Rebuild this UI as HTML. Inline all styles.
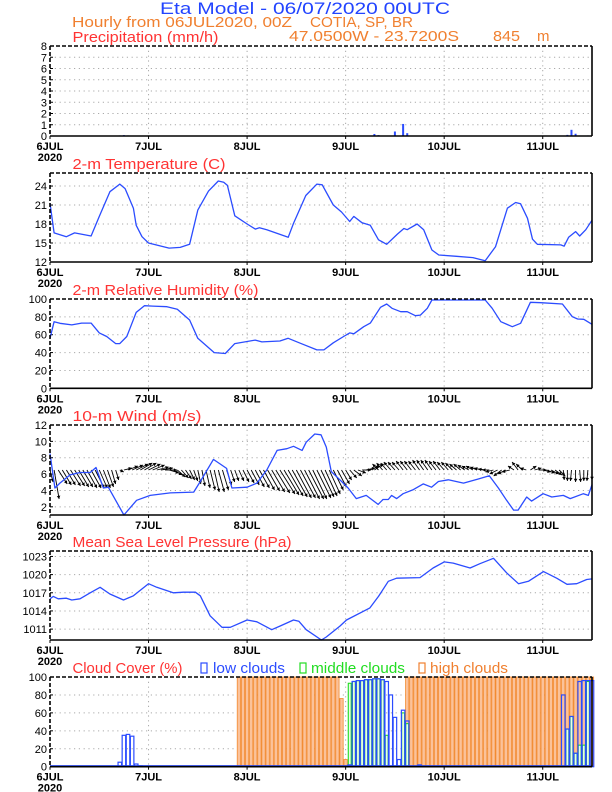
<!DOCTYPE html>
<html><head><meta charset="utf-8"><title>Eta Model Meteogram</title>
<style>
html,body{margin:0;padding:0;background:#fff;}
svg{display:block;font-family:"Liberation Sans",sans-serif;}
</style></head>
<body>
<svg id="chart" width="612" height="792" viewBox="0 0 612 792" xmlns="http://www.w3.org/2000/svg">
<rect width="612" height="792" fill="#fff"/>
<text x="160" y="14" font-size="17" fill="#2244ff" textLength="290" lengthAdjust="spacingAndGlyphs">Eta Model - 06/07/2020 00UTC</text>
<text x="72" y="27" font-size="15" fill="#f08030" textLength="220" lengthAdjust="spacingAndGlyphs">Hourly from 06JUL2020, 00Z</text>
<text x="310" y="27" font-size="15" fill="#f08030" textLength="103" lengthAdjust="spacingAndGlyphs">COTIA, SP, BR</text>
<text x="289" y="41" font-size="15" fill="#f08030" textLength="170" lengthAdjust="spacingAndGlyphs">47.0500W - 23.7200S</text>
<text x="493" y="41" font-size="15" fill="#f08030" textLength="27" lengthAdjust="spacingAndGlyphs">845</text>
<text x="537" y="41" font-size="15" fill="#f08030">m</text>
</svg>
<script>
// ---------- data ----------
const dayLabels = ["6JUL","7JUL","8JUL","9JUL","10JUL","11JUL"];
const yearLabel = "2020";

const precipHours = [17,18,19,79,80,84,86,87,97,99,101,103,105,107,126,127,128,131];
const precipValues = [0.05,0.08,0.05,0.18,0.08,0.4,1.07,0.25,0.03,0.03,0.03,0.03,0.03,0.03,0.1,0.55,0.2,0.05];
const precipTicks = [0,1,2,3,4,5,6,7,8];

const tempHours = [0,1,4,6,10,12,14.6,17,18.3,20.3,21,22.4,24,29,31.7,34,36,38.6,41,42.3,43.2,45,48,50,51,52.8,58,59.3,62.3,65,66.3,69,71,73,74,76,78,80,82,84.6,86.2,87,89.4,91,93,94.7,99,103,106,108.5,111.4,113.4,114.6,116.3,117.5,118.7,124.4,125.2,126.3,128,129,130.5,132];
const tempValues = [21.3,16.6,16.0,16.6,16.1,19.2,23.1,24.3,23.6,20.5,17.8,16.0,15.0,14.2,14.3,14.8,20.2,23.2,24.8,24.6,24.1,19.3,18.0,17.2,17.4,17.1,15.9,18.1,22.5,24.3,24.2,21.0,19.9,18.4,19.2,18.2,17.8,15.5,14.8,16.4,17.3,17.1,18.0,17.1,13.9,13.1,12.9,12.7,12.2,14.4,20.5,21.4,21.2,18.9,15.6,14.8,14.7,14.5,15.9,16.8,16.1,17.1,18.6];
const tempTicks = [12,15,18,21,24];

const rhHours = [0,1,2.4,5.3,7.7,10,12,13.8,16,17,18.7,21,23,25,28.5,31,34,36,40,42.7,45,50,51.6,56,58,61,65,66.7,69,71.5,73,74,76.4,78,80.5,82,83.3,85.4,87,89,90.2,91.9,93,106,107.7,109.8,112.6,114.6,117,119.5,124.8,127.2,128.5,130,132];
const rhValues = [56,74.6,72.8,71,73,73,62,58,50,50,58,85,92.5,92,91.4,88.5,76.5,56,40,39,50,54,52,53,56,50.4,43,43,51,58,62,61,69,73,90.7,94.4,89.6,85.8,85.8,81.3,82,89.6,98.9,98.9,89.6,74.6,69,72.8,96.3,95.9,94.4,80.2,77.6,77.3,71.7];
const rhTicks = [0,20,40,60,80,100];

const windHours = [0,1.2,2.4,4.9,7.3,9.8,11.2,13,14.2,18,21.1,24.4,29.3,35,36.6,39.8,43,44.3,48,50.4,52.8,55.3,57.7,59.3,61.4,62.4,64.5,66,67.3,68.5,70.6,72.6,74.6,77,79.9,81.1,82.4,83.2,84.4,86,88.5,90.9,92.9,94.6,97,100.7,104.3,107,109.2,111.2,112.9,114,116.1,117.3,120.1,122.2,125,126.7,129.9,131.1,132];
const windSpeed = [8.5,4.3,4.9,5.9,6.2,6.2,6.8,4.3,4.4,1.0,2.8,3.4,3.7,3.8,5.1,7.8,6.7,4.3,4.4,4.9,6.5,8.9,9.1,9.4,8.9,9.9,10.9,10.8,9.3,6.3,5.3,4.3,3.0,3.4,2.3,2.9,2.9,3.4,3.0,3.6,4.1,4.8,4.4,5.1,5.3,4.9,5.4,5.8,4.3,2.8,1.6,1.6,3.2,2.7,3.6,3.2,3.4,3.0,3.6,3.4,4.7];
const windTicks = [2,4,6,8,10,12];
// hourly wind vector components (m/s), hours 0..132
const windU = [1.5,2.5,
 4.5,4.5,4.5,5,5,5,5,5,5,4.5,
 4,3.5,3,2,1.5,
 2,4,5,5.5,6,6,6,6,6,6,6,6,
 5,4.5,4,3.5,3,2.5,2,
 1.5,1.5,2,2.5,2.5,3,3,
 2.5,2,2,2.5,3,3.5,
 4,4.5,5,5.5,6,6.5,7,7.5,7.5,7.5,7.5,7.5,7.5,
 7.5,7.5,7,7,6.5,6,5.5,5,4.5,4,
 3,3.5,4,4,4.5,4.5,4.5,4.5,
 -3,-3,-3,-3.5,-3.5,-3.5,-3.5,-3.5,-3.5,-3.5,
 -3.5,-3.5,-3.5,-3.5,-3.5,-3.5,-3.5,-3.5,-3.5,-3.5,
 -3.5,-3.5,-3.5,-3.5,-3.5,-3.5,-3.5,-3.5,
 -4,-4,-4,-4,-4,
 -3,-3,-3,-3,
 3,3.5,4,4,4,4,3.5,3,
 0.5,0,-0.5,0,0.5,0,-0.5,0];
const windV = [-6,-14.5,
 -7,-7.5,-7.5,-8,-8,-8.5,-8.5,-9,-9,-9,
 -9,-9,-8.5,-7,-5,
 -1,1,2,2.5,3,3.5,3.5,3,2.5,1.5,1,0,
 -1.5,-2.5,-3.5,-4,-4.5,-5,-5.5,
 -7,-8,-9,-10,-11,-11,-10,
 -7.5,-6,-5.5,-5.5,-6,-6.5,
 -7.5,-8.5,-9,-10,-10.5,-11,-11.5,-12,-12.5,-13,-13.5,-14,-14,
 -14.5,-14.5,-14.5,-14,-13.5,-13,-12,-10,-8.5,-7,
 -5,-4,-3,-1.5,0,1,2,3,
 3,3.5,3.5,4,4,4,4.5,4.5,4.5,4.5,
 5,5,5,5,4.5,4.5,4,4,3.5,3,
 3,2.5,2,2,1.5,1,0.5,0,
 -1,-2,-3,-2,-1,
 2,4,3,1,
 2,1,0,-1,-1.5,-2,-2.5,-3,
 -5,-5.5,-5.5,-6,-6,-5.5,-5.5,-5];

const mslpHours = [0,0.8,2,4,5.3,7.3,9.8,12.2,14.6,17.9,20.3,24,26,30,32.5,35.4,36.6,39,41.9,43.9,48,50.4,54,56,59.3,60.6,62.4,66.1,67.3,70.6,72.2,77.9,80,82.4,84.4,90.1,93.3,96,98.2,102.3,104.7,108,111.2,114.1,116.5,120.2,123.4,125.9,128.3,130.7,132];
const mslpValues = [1016.0,1016.4,1016.0,1016.1,1015.8,1016.0,1017.0,1017.9,1016.8,1015.8,1016.5,1018.5,1017.9,1017.0,1017.1,1017.1,1016.5,1013.2,1011.3,1011.3,1012.5,1012.2,1010.9,1011.5,1012.5,1012.3,1010.9,1009.2,1009.7,1011.5,1012.5,1014.5,1016.4,1018.9,1019.4,1019.5,1021.1,1022.1,1021.9,1021.1,1021.8,1022.7,1020.3,1018.5,1018.9,1020.5,1019.4,1018.4,1018.5,1019.2,1019.3];
const mslpTicks = [1011,1014,1017,1020,1023];

const lowHours = [17,18,19,20,21,22,73,74,75,76,77,78,79,80,81,82,83,84,85,86,87,90,125,126,127,128,129,130,131,132];
const lowValues = [5,35,36,34,3,1,2,95,96,96,97,97,98,98,97,95,80,55,8,63,51,2,80,42,56,15,95,96,96,96];
const midHours = [73,74,75,76,77,78,79,80,81,82,86,87,126,127,128,129,130,131];
const midValues = [93,95,96,96,97,97,98,98,97,35,60,48,42,56,15,24,24,95];
const highHours = [46,47,48,49,50,51,52,53,54,55,56,57,58,59,60,61,62,63,64,65,66,67,68,69,70,71,72,
 87,88,89,90,91,92,93,94,95,96,97,98,99,100,101,102,103,104,105,106,107,108,109,110,111,112,113,114,115,116,117,118,119,120,121,122,123,124,125,126,127,128,129,130,131,132];
const highValues = [100,100,100,100,100,100,100,100,100,100,100,100,100,100,100,100,100,100,100,100,100,100,100,100,100,76,8,
 100,100,100,100,100,100,100,100,100,100,100,100,100,100,100,100,100,100,100,100,100,100,100,100,100,100,100,100,100,100,100,100,100,100,100,100,100,100,100,100,100,100,100,100,100,100,100,100,100,100];
const cloudTicks = [0,20,40,60,80,100];

// ---------- drawing ----------
const NS = "http://www.w3.org/2000/svg";
const svg = document.getElementById("chart");
const X0 = 50, X1 = 592, HMAX = 132;
const BLUE = "#2b4cff", RED = "#ff3333", ORANGE = "#f08030", GREEN = "#22dd22";
function xs(h){ return X0 + (X1 - X0) * h / HMAX; }
function mk(tag, attrs, parent){
  const e = document.createElementNS(NS, tag);
  for (const k in attrs) e.setAttribute(k, attrs[k]);
  (parent || svg).appendChild(e);
  return e;
}
function yScale(p){ return v => p.bottom - (v - p.min) / (p.max - p.min) * (p.bottom - p.top); }

function drawPanel(p, name, ticks, title, titleLen){
  const g = mk("g", {});
  
  
  const y = yScale(p);
  ticks.forEach(t => {
    const yy = y(t);
    if (yy > p.top + 1 && yy < p.bottom - 1) {
      const gl = mk("line", {x1:X0, x2:X1, y1:yy, y2:yy, stroke:"#aaa", "stroke-width":1, "stroke-dasharray":"1.2,3.6"}, g);
      
      
    }
    const tl = mk("text", {x:47, y:yy + 4, "font-size":11, "text-anchor":"end", fill:"#000"}, g);
    
    
    tl.textContent = t;
    mk("line", {x1:X0, x2:X0 + 3, y1:yy, y2:yy, stroke:"#000", "stroke-width":1}, g);
  });
  dayLabels.forEach((d, i) => {
    const xx = xs(i * 24);
    if (i > 0) {
      const vl = mk("line", {x1:xx, x2:xx, y1:p.top, y2:p.bottom, stroke:"#aaa", "stroke-width":1, "stroke-dasharray":"1.2,3.6"}, g);
      
      
    }
    const dl = mk("text", {x:xx, y:p.bottom + 14, "font-size":11, "font-weight":"bold", "text-anchor":"middle", fill:"#000"}, g);
    
    
    dl.textContent = d;
    mk("line", {x1:xx, x2:xx, y1:p.bottom, y2:p.bottom + 3, stroke:"#000", "stroke-width":1}, g);
  });
  const yl = mk("text", {x:xs(0), y:p.bottom + 25, "font-size":11, "font-weight":"bold", "text-anchor":"middle", fill:"#000"}, g);
  
  
  yl.textContent = yearLabel;
  const tt = mk("text", {x:72.5, y:p.top - 4, "font-size":14.5, fill:RED, textLength:titleLen, lengthAdjust:"spacingAndGlyphs"}, g);
  
  
  tt.textContent = title;
  return {g, y};
}
function drawFrame(p, g){
  mk("line", {x1:X0, x2:X1, y1:p.top, y2:p.top, stroke:"#000", "stroke-width":1.6, "stroke-dasharray":"4,2"}, g);
  mk("line", {x1:X0, x2:X0, y1:p.top, y2:p.bottom, stroke:"#000", "stroke-width":1.6, "stroke-dasharray":"4,2"}, g);
  mk("line", {x1:X1, x2:X1, y1:p.top, y2:p.bottom, stroke:"#000", "stroke-width":1.6}, g);
  mk("line", {x1:X0, x2:X1, y1:p.bottom, y2:p.bottom, stroke:"#000", "stroke-width":1.6}, g);
}
function drawLine(g, y, hours, vals, name){
  const pts = hours.map((h, i) => xs(h).toFixed(1) + "," + y(vals[i]).toFixed(1)).join(" ");
  const pl = mk("polyline", {points:pts, fill:"none", stroke:BLUE, "stroke-width":1.3, "stroke-linejoin":"round"}, g);
  
  
}

// Precipitation
const pP = {top:46, bottom:136, min:0, max:8};
let r = drawPanel(pP, "precipitation", precipTicks, "Precipitation (mm/h)", 146);
precipHours.forEach((h, i) => {
  const yy = r.y(precipValues[i]);
  const b = mk("rect", {x:xs(h) - 1, y:yy, width:2, height:Math.max(pP.bottom - yy, 0.8), fill:BLUE}, r.g);
  
  
});
drawFrame(pP, r.g);

// Temperature
const pT = {top:173, bottom:262, min:12, max:26.06};
r = drawPanel(pT, "temperature", tempTicks, "2-m Temperature (C)", 153);
drawLine(r.g, r.y, tempHours, tempValues, "temperature-line");
drawFrame(pT, r.g);

// RH
const pR = {top:299, bottom:388.3, min:0, max:100};
r = drawPanel(pR, "humidity", rhTicks, "2-m Relative Humidity (%)", 186);
drawLine(r.g, r.y, rhHours, rhValues, "humidity-line");
drawFrame(pR, r.g);

// Wind
const pW = {top:425, bottom:515, min:1, max:12};
r = drawPanel(pW, "wind", windTicks, "10-m Wind (m/s)", 129);
const ARROW_SCALE = 2, ARROW_BASE = 6.5;
const baseY = r.y(ARROW_BASE);
for (let h = 0; h < windU.length && h <= HMAX; h++) {
  const x0 = xs(h), y0 = baseY;
  const x1 = x0 + windU[h] * ARROW_SCALE, y1 = y0 - windV[h] * ARROW_SCALE;
  const a = mk("g", {}, r.g);
  
  
  mk("line", {x1:x0, y1:y0, x2:x1, y2:y1, stroke:"#000", "stroke-width":0.9}, a);
  const len = Math.hypot(x1 - x0, y1 - y0) || 1;
  const ux = (x1 - x0) / len, uy = (y1 - y0) / len;
  const hl = 3.2, hw = 1.8;
  const bx = x1 - ux * hl, by = y1 - uy * hl;
  mk("polygon", {points:[x1, y1, bx - uy * hw, by + ux * hw, bx + uy * hw, by - ux * hw].map(v => v.toFixed(1)).join(","), fill:"#000"}, a);
}
drawLine(r.g, r.y, windHours, windSpeed, "wind-speed-line");
drawFrame(pW, r.g);

// MSLP
const pM = {top:551, bottom:640, min:1009.2, max:1023.9};
r = drawPanel(pM, "pressure", mslpTicks, "Mean Sea Level Pressure (hPa)", 219);
drawLine(r.g, r.y, mslpHours, mslpValues, "pressure-line");
drawFrame(pM, r.g);

// Cloud
const pC = {top:677, bottom:766.7, min:0, max:100};
r = drawPanel(pC, "cloud", cloudTicks, "Cloud Cover (%)", 110);
const bw = (X1 - X0) / HMAX;
highHours.forEach((h, i) => {
  const yy = r.y(highValues[i]);
  const b = mk("rect", {x:xs(h) - bw / 2 + 0.4, y:yy, width:bw - 0.8, height:pC.bottom - yy, fill:"#fbc29a", stroke:"#f28a30", "stroke-width":0.8}, r.g);
  
  
});
midHours.forEach((h, i) => {
  const yy = r.y(midValues[i]);
  const b = mk("rect", {x:xs(h) - bw / 2 + 0.6, y:yy, width:bw - 1.2, height:pC.bottom - yy, fill:"#eafbe8", stroke:GREEN, "stroke-width":1.1}, r.g);
  
  
});
lowHours.forEach((h, i) => {
  const yy = r.y(lowValues[i]);
  const b = mk("rect", {x:xs(h) - bw / 2 + 0.3, y:yy, width:bw - 0.6, height:pC.bottom - yy, fill:"none", stroke:BLUE, "stroke-width":1.2}, r.g);
  
  
});
mk("line", {x1:X0, x2:X1, y1:pC.bottom - 0.8, y2:pC.bottom - 0.8, stroke:BLUE, "stroke-width":1.5}, r.g);
drawFrame(pC, r.g);

// Cloud legend
const lg = mk("g", {});


const legendItems = [
  {box:201, tx:213, len:72, label:"low clouds", color:BLUE, name:"legend-low-clouds"},
  {box:300, tx:311, len:94, label:"middle clouds", color:GREEN, name:"legend-middle-clouds"},
  {box:419, tx:430, len:78, label:"high clouds", color:ORANGE, name:"legend-high-clouds"}
];
legendItems.forEach(it => {
  const e = mk("g", {}, lg);
  
  
  mk("rect", {x:it.box, y:663, width:6, height:10, fill:"none", stroke:it.color, "stroke-width":1.2}, e);
  const t = mk("text", {x:it.tx, y:673, "font-size":14.5, fill:it.color, textLength:it.len, lengthAdjust:"spacingAndGlyphs"}, e);
  t.textContent = it.label;
});
</script>
</body></html>
